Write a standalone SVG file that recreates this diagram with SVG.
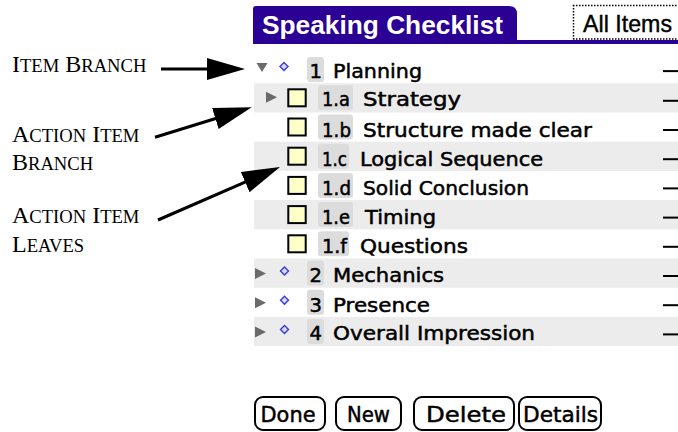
<svg xmlns="http://www.w3.org/2000/svg" width="678" height="432" viewBox="0 0 678 432">
<style>
.lbl{font-family:"Liberation Serif","Times New Roman",serif;font-size:24px;fill:#000}
.sc{font-size:18.6px}
.row-bg{fill:#ececec}
.tri{fill:#6a6a6a}
.dia{fill:#d8d8ff;stroke:#3a3ad8;stroke-width:1.4}
.chk{fill:#ffffc8;stroke:#000;stroke-width:2}
.nbg{fill:#dcdcdc}
.txt{font-family:"DejaVu Sans","Liberation Sans",sans-serif;font-size:19.5px;fill:#000;stroke:#000;stroke-width:0.5}
.dash{fill:#000}
.btn rect{fill:#fff;stroke:#000;stroke-width:2}
.btn text{font-family:"DejaVu Sans","Liberation Sans",sans-serif;font-size:22px;fill:#000;stroke:#000;stroke-width:0.5;text-anchor:middle}
.conn{stroke:#000;stroke-width:3;fill:none;marker-end:url(#ah)}
</style>
<defs>
<marker id="ah" markerUnits="userSpaceOnUse" markerWidth="40" markerHeight="24" refX="8" refY="11" orient="auto">
<path d="M0,0 L38,11 L0,22 z" fill="#000"/>
</marker>
</defs>
<rect width="678" height="432" fill="#fff"/>

<g id="title">
<path d="M253,44 L253,9 Q253,6 256,6 L509,6 Q517,6 517,14 L517,44 z" fill="#2a0095"/>
<rect x="253" y="40" width="425" height="4" fill="#2a0095"/>
<text x="262" y="34" font-family="'Liberation Sans',Arial,sans-serif" font-weight="bold" font-size="26" fill="#fff" textLength="241" lengthAdjust="spacingAndGlyphs">Speaking Checklist</text>
</g>
<g id="all-items">
<path d="M573,5.5 L678,5.5 M573.5,5 L573.5,39 M573,39 L678,39" stroke="#000" stroke-width="1.5" stroke-dasharray="1.5 1.5" fill="none"/>
<text x="583" y="32" font-family="'Liberation Sans',Arial,sans-serif" font-size="24" fill="#000" stroke="#000" stroke-width="0.4" textLength="89" lengthAdjust="spacingAndGlyphs">All Items</text>
</g>

<g id="row-1" transform="translate(0,54.1)">
<path class="tri" d="M256.5,9 L267.5,9 L262,18 z"/>
<polygon class="dia" points="284,8.5 288,12.5 284,16.5 280,12.5"/>
<rect class="nbg" x="307" y="3" width="17" height="25" rx="3"/>
<text class="txt" x="309.5" y="24" textLength="12.5" lengthAdjust="spacingAndGlyphs">1</text>
<text class="txt" x="333" y="24" textLength="89" lengthAdjust="spacingAndGlyphs">Planning</text>
<rect class="dash" x="663" y="16" width="15" height="2"/>
</g>
<g id="row-1a" transform="translate(0,83.3)">
<rect class="row-bg" x="254" y="0" width="424" height="29.2"/>
<path class="tri" d="M266,8.5 L277,14 L266,19.5 z"/>
<rect class="chk" x="288.3" y="6" width="17.4" height="17"/>
<rect class="nbg" x="318" y="2" width="35" height="25" rx="3"/>
<text class="txt" x="322" y="23" textLength="28" lengthAdjust="spacingAndGlyphs">1.a</text>
<text class="txt" x="363" y="23" textLength="98" lengthAdjust="spacingAndGlyphs">Strategy</text>
<rect class="dash" x="663" y="16.5" width="15" height="2"/>
</g>
<g id="row-1b" transform="translate(0,112.5)">
<rect class="chk" x="288.3" y="6" width="17.4" height="17"/>
<rect class="nbg" x="318" y="2" width="35" height="25" rx="3"/>
<text class="txt" x="322" y="24" textLength="29" lengthAdjust="spacingAndGlyphs">1.b</text>
<text class="txt" x="363" y="24" textLength="229" lengthAdjust="spacingAndGlyphs">Structure made clear</text>
<rect class="dash" x="663" y="16.5" width="15" height="2"/>
</g>
<g id="row-1c" transform="translate(0,141.7)">
<rect class="row-bg" x="254" y="0" width="424" height="29.2"/>
<rect class="chk" x="288.3" y="6" width="17.4" height="17"/>
<rect class="nbg" x="318" y="2" width="31" height="25" rx="3"/>
<text class="txt" x="322" y="24" textLength="25" lengthAdjust="spacingAndGlyphs">1.c</text>
<text class="txt" x="360" y="24" textLength="183" lengthAdjust="spacingAndGlyphs">Logical Sequence</text>
<rect class="dash" x="663" y="16.5" width="15" height="2"/>
</g>
<g id="row-1d" transform="translate(0,170.9)">
<rect class="chk" x="288.3" y="6" width="17.4" height="17"/>
<rect class="nbg" x="318" y="2" width="35" height="25" rx="3"/>
<text class="txt" x="322" y="24" textLength="29" lengthAdjust="spacingAndGlyphs">1.d</text>
<text class="txt" x="363" y="24" textLength="166" lengthAdjust="spacingAndGlyphs">Solid Conclusion</text>
<rect class="dash" x="663" y="16.5" width="15" height="2"/>
</g>
<g id="row-1e" transform="translate(0,200.1)">
<rect class="row-bg" x="254" y="0" width="424" height="29.2"/>
<rect class="chk" x="288.3" y="6" width="17.4" height="17"/>
<rect class="nbg" x="318" y="2" width="35" height="25" rx="3"/>
<text class="txt" x="322" y="24" textLength="28" lengthAdjust="spacingAndGlyphs">1.e</text>
<text class="txt" x="365" y="24" textLength="71" lengthAdjust="spacingAndGlyphs">Timing</text>
<rect class="dash" x="663" y="16.5" width="15" height="2"/>
</g>
<g id="row-1f" transform="translate(0,229.3)">
<rect class="chk" x="288.3" y="6" width="17.4" height="17"/>
<rect class="nbg" x="318" y="2" width="31" height="25" rx="3"/>
<text class="txt" x="322" y="24" textLength="25" lengthAdjust="spacingAndGlyphs">1.f</text>
<text class="txt" x="360" y="24" textLength="108" lengthAdjust="spacingAndGlyphs">Questions</text>
<rect class="dash" x="663" y="16.5" width="15" height="2"/>
</g>
<g id="row-2" transform="translate(0,258.5)">
<rect class="row-bg" x="254" y="0" width="424" height="29.2"/>
<path class="tri" d="M255,9.5 L266,15 L255,20.5 z"/>
<polygon class="dia" points="284.5,8.5 288.5,12.5 284.5,16.5 280.5,12.5"/>
<rect class="nbg" x="307" y="2" width="17" height="25" rx="3"/>
<text class="txt" x="309.5" y="23.5" textLength="12.5" lengthAdjust="spacingAndGlyphs">2</text>
<text class="txt" x="333" y="23.5" textLength="111" lengthAdjust="spacingAndGlyphs">Mechanics</text>
<rect class="dash" x="663" y="16.5" width="15" height="2"/>
</g>
<g id="row-3" transform="translate(0,287.7)">
<path class="tri" d="M255,9.5 L266,15 L255,20.5 z"/>
<polygon class="dia" points="284.5,8.5 288.5,12.5 284.5,16.5 280.5,12.5"/>
<rect class="nbg" x="307" y="2" width="17" height="25" rx="3"/>
<text class="txt" x="309.5" y="24" textLength="12.5" lengthAdjust="spacingAndGlyphs">3</text>
<text class="txt" x="333" y="24" textLength="97" lengthAdjust="spacingAndGlyphs">Presence</text>
<rect class="dash" x="663" y="16.5" width="15" height="2"/>
</g>
<g id="row-4" transform="translate(0,316.9)">
<rect class="row-bg" x="254" y="0" width="424" height="29.2"/>
<path class="tri" d="M255,9.5 L266,15 L255,20.5 z"/>
<polygon class="dia" points="284.5,8.5 288.5,12.5 284.5,16.5 280.5,12.5"/>
<rect class="nbg" x="307" y="2" width="17" height="25" rx="3"/>
<text class="txt" x="309.5" y="23.5" textLength="12.5" lengthAdjust="spacingAndGlyphs">4</text>
<text class="txt" x="333" y="23.5" textLength="202" lengthAdjust="spacingAndGlyphs">Overall Impression</text>
<rect class="dash" x="663" y="16.5" width="15" height="2"/>
</g>

<g id="btn-done" class="btn"><rect x="255" y="397" width="70" height="33" rx="8"/><text x="288" y="422" textLength="55" lengthAdjust="spacingAndGlyphs">Done</text></g>
<g id="btn-new" class="btn"><rect x="336" y="397" width="65" height="33" rx="8"/><text x="368.5" y="422" textLength="43" lengthAdjust="spacingAndGlyphs">New</text></g>
<g id="btn-delete" class="btn"><rect x="414" y="397" width="100" height="33" rx="8"/><text x="466" y="422" textLength="80" lengthAdjust="spacingAndGlyphs">Delete</text></g>
<g id="btn-details" class="btn"><rect x="519" y="397" width="82" height="33" rx="8"/><text x="560.5" y="422" textLength="75" lengthAdjust="spacingAndGlyphs">Details</text></g>

<g id="label-item-branch"><text class="lbl" x="12" y="72">I<tspan class="sc">TEM</tspan> B<tspan class="sc">RANCH</tspan></text></g>
<g id="label-action-item-branch"><text class="lbl" x="12" y="142">A<tspan class="sc">CTION</tspan> I<tspan class="sc">TEM</tspan></text><text class="lbl" x="12" y="170">B<tspan class="sc">RANCH</tspan></text></g>
<g id="label-action-item-leaves"><text class="lbl" x="12" y="223">A<tspan class="sc">CTION</tspan> I<tspan class="sc">TEM</tspan></text><text class="lbl" x="12" y="252">L<tspan class="sc">EAVES</tspan></text></g>

<g id="connectors">
<line class="conn" x1="161" y1="69" x2="215" y2="69"/>
<line class="conn" x1="155" y1="137.3" x2="223" y2="116.2"/>
<line class="conn" x1="158" y1="220" x2="252.5" y2="178.9"/>
</g>
</svg>
